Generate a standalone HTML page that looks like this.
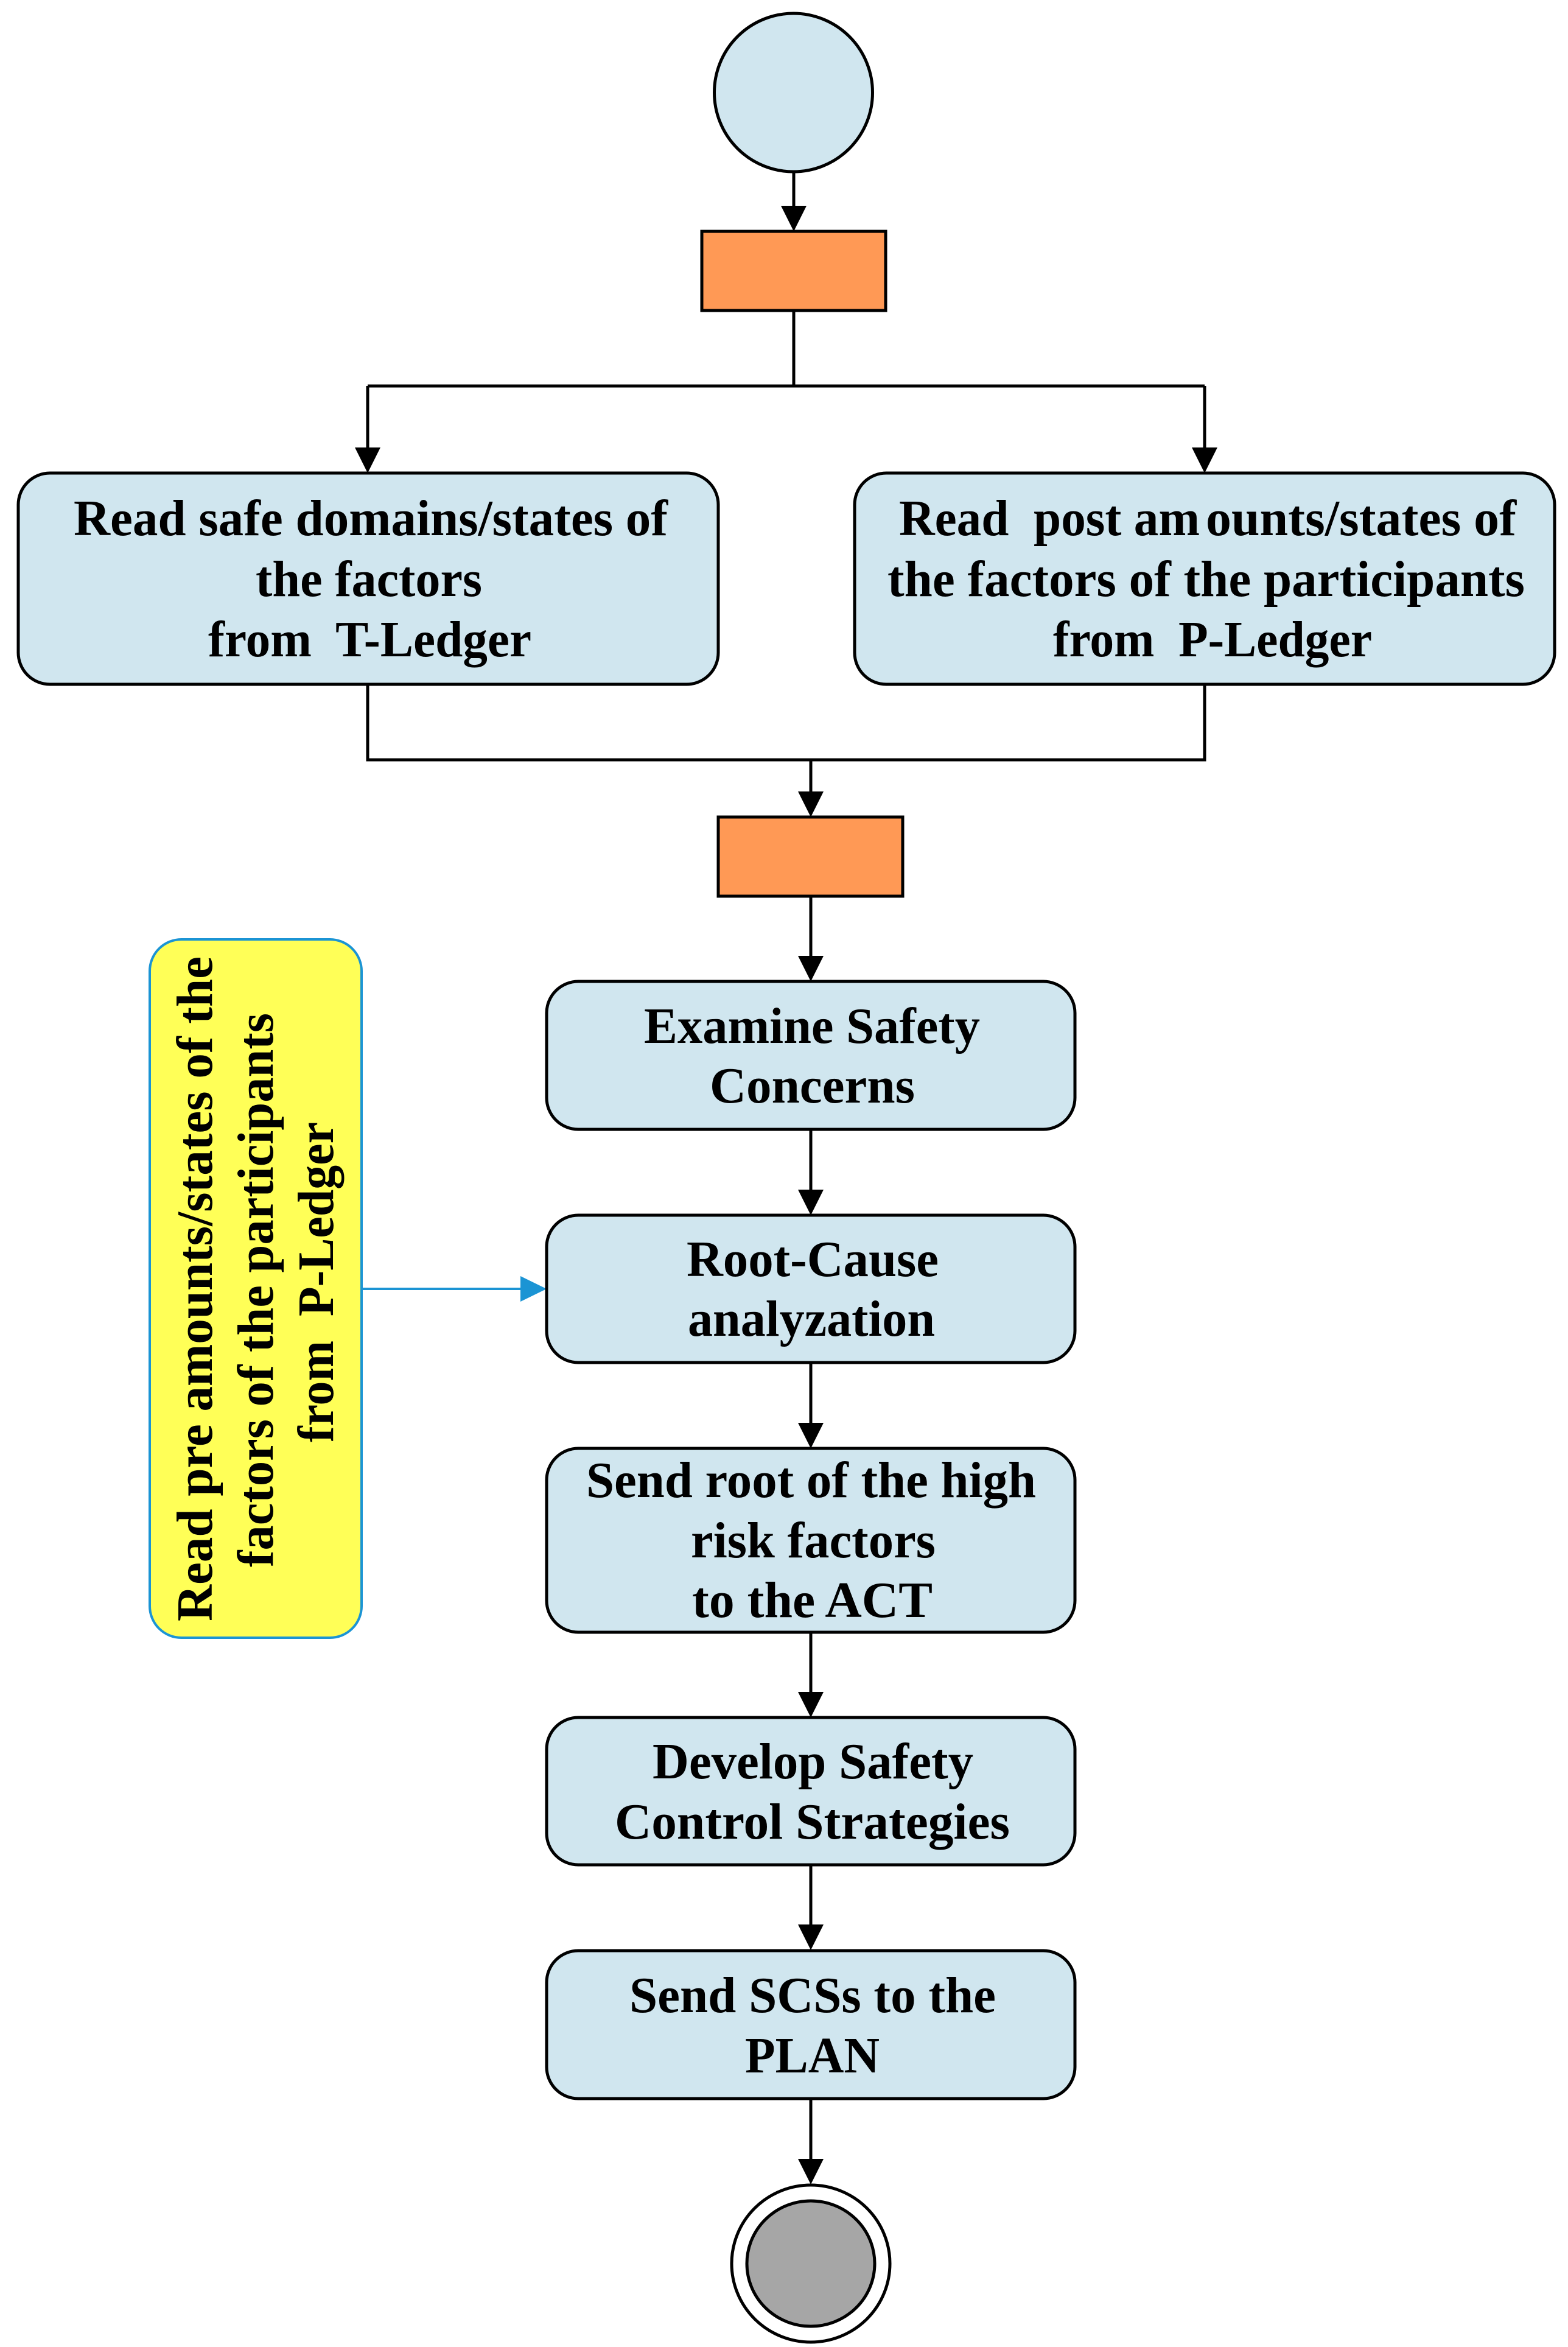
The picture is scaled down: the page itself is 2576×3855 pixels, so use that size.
<!DOCTYPE html>
<html>
<head>
<meta charset="utf-8">
<style>
html,body{margin:0;padding:0;background:#fff;}
svg{display:block;}
text{font-family:"Liberation Serif",serif;font-weight:bold;font-size:84px;fill:#000;white-space:pre;}
.b{fill:#d0e6ef;stroke:#000;stroke-width:5;}
.o{fill:#ff9955;stroke:#000;stroke-width:5;}
.l{fill:none;stroke:#000;stroke-width:5;}
</style>
</head>
<body>
<svg width="2576" height="3855" viewBox="0 0 2576 3855" xmlns="http://www.w3.org/2000/svg">
<rect width="2576" height="3855" fill="#fff"/>

<!-- connectors -->
<path class="l" d="M1304 283V340"/>
<path class="l" d="M1304 511V634M604 634H1979M604 634V740M1979 634V740"/>
<path class="l" d="M604 1124V1248H1979V1124M1332 1248V1305"/>
<path class="l" d="M1332 1473V1575M1332 1856V1960M1332 2238V2340M1332 2681V2785M1332 3063V3165M1332 3448V3550"/>

<!-- arrowheads -->
<polygon points="1304,380 1283,338 1325,338"/>
<polygon points="604,777 583,735 625,735"/>
<polygon points="1979,777 1958,735 2000,735"/>
<polygon points="1332,1342 1311,1300 1353,1300"/>
<polygon points="1332,1612 1311,1570 1353,1570"/>
<polygon points="1332,1996 1311,1954 1353,1954"/>
<polygon points="1332,2379 1311,2337 1353,2337"/>
<polygon points="1332,2821 1311,2779 1353,2779"/>
<polygon points="1332,3203 1311,3161 1353,3161"/>
<polygon points="1332,3588 1311,3546 1353,3546"/>

<!-- blue connector -->
<path d="M594 2117H860" fill="none" stroke="#1b94d4" stroke-width="4"/>
<polygon points="898,2117 855,2096 855,2138" fill="#1b94d4"/>

<!-- start -->
<circle class="b" cx="1303.500" cy="152" r="130"/>
<rect class="o" x="1153" y="380" width="302" height="130"/>

<!-- top boxes -->
<rect class="b" x="30" y="777" width="1150" height="347" rx="52" ry="52"/>
<rect class="b" x="1404" y="777" width="1150" height="347" rx="52" ry="52"/>
<text x="121" y="879" textLength="976" lengthAdjust="spacingAndGlyphs">Read safe domains/states of</text>
<text x="420" y="979" textLength="372" lengthAdjust="spacingAndGlyphs">the factors</text>
<text x="342" y="1078" textLength="531" lengthAdjust="spacingAndGlyphs">from  T-Ledger</text>
<text x="1477" y="879" textLength="494" lengthAdjust="spacingAndGlyphs">Read  post am</text>
<text x="1981" y="879" textLength="510" lengthAdjust="spacingAndGlyphs">ounts/states of</text>
<text x="1458" y="979" textLength="1047" lengthAdjust="spacingAndGlyphs">the factors of the participants</text>
<text x="1730" y="1078" textLength="524" lengthAdjust="spacingAndGlyphs">from  P-Ledger</text>

<rect class="o" x="1180" y="1342" width="303" height="130"/>

<!-- yellow -->
<rect x="246" y="1543" width="348" height="1147" rx="52" ry="52" fill="#ffff57" stroke="#1b94d4" stroke-width="4"/>
<text transform="translate(348,2663) rotate(-90)" textLength="1092" lengthAdjust="spacingAndGlyphs">Read pre amounts/states of the</text>
<text transform="translate(448,2574) rotate(-90)" textLength="910" lengthAdjust="spacingAndGlyphs">factors of the participants</text>
<text transform="translate(547,2369) rotate(-90)" textLength="526" lengthAdjust="spacingAndGlyphs">from  P-Ledger</text>

<!-- stack -->
<rect class="b" x="898" y="1612" width="868" height="243" rx="52" ry="52"/>
<text x="1058" y="1713" textLength="552" lengthAdjust="spacingAndGlyphs">Examine Safety</text>
<text x="1166" y="1811" textLength="337" lengthAdjust="spacingAndGlyphs">Concerns</text>

<rect class="b" x="898" y="1996" width="868" height="242" rx="52" ry="52"/>
<text x="1128" y="2096" textLength="414" lengthAdjust="spacingAndGlyphs">Root-Cause</text>
<text x="1130" y="2194" textLength="406" lengthAdjust="spacingAndGlyphs">analyzation</text>

<rect class="b" x="898" y="2379" width="868" height="302" rx="52" ry="52"/>
<text x="963" y="2459" textLength="739" lengthAdjust="spacingAndGlyphs">Send root of the high</text>
<text x="1135" y="2558" textLength="402" lengthAdjust="spacingAndGlyphs">risk factors</text>
<text x="1137" y="2656" textLength="395" lengthAdjust="spacingAndGlyphs">to the ACT</text>

<rect class="b" x="898" y="2821" width="868" height="242" rx="52" ry="52"/>
<text x="1072" y="2921" textLength="527" lengthAdjust="spacingAndGlyphs">Develop Safety</text>
<text x="1010" y="3020" textLength="649" lengthAdjust="spacingAndGlyphs">Control Strategies</text>

<rect class="b" x="898" y="3204" width="868" height="243" rx="52" ry="52"/>
<text x="1034" y="3305" textLength="602" lengthAdjust="spacingAndGlyphs">Send SCSs to the</text>
<text x="1224" y="3404" textLength="221" lengthAdjust="spacingAndGlyphs">PLAN</text>

<!-- end -->
<ellipse cx="1332" cy="3718" rx="130" ry="129" fill="#fff" stroke="#000" stroke-width="5"/>
<ellipse cx="1332" cy="3718" rx="105" ry="103" fill="#a6a6a6" stroke="#000" stroke-width="5"/>
</svg>
</body>
</html>
